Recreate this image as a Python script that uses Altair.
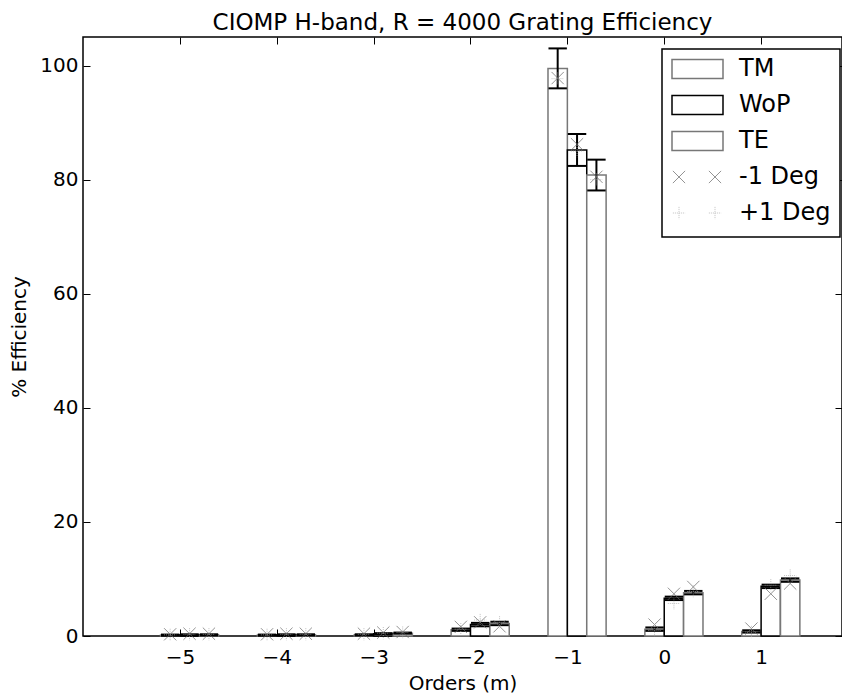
import altair as alt
import pandas as pd

# ---------------- data ----------------
orders = [-5, -4, -3, -2, -1, 0, 1]
series = ["TM", "WoP", "TE"]
tm = [0.15, 0.15, 0.2, 1.1, 99.5, 1.2, 0.8]
wop = [0.2, 0.2, 0.4, 2.0, 85.2, 6.6, 8.7]
te = [0.2, 0.2, 0.5, 2.2, 80.8, 7.6, 9.8]
tm_err = [0.1, 0.1, 0.1, 0.2, 3.5, 0.3, 0.2]
wop_err = [0.1, 0.1, 0.1, 0.3, 2.8, 0.3, 0.3]
te_err = [0.1, 0.1, 0.1, 0.3, 2.7, 0.3, 0.3]
minus1_tm = [0.3, 0.3, 0.4, 1.6, 97.8, 2.0, 1.3]
minus1_wop = [0.4, 0.4, 0.6, 2.4, 86.2, 7.4, 7.4]
minus1_te = [0.4, 0.4, 0.7, 1.7, 80.5, 8.6, 9.2]
plus1_tm = [0.2, 0.2, 0.3, 1.2, 97.7, 1.0, 0.7]
plus1_wop = [0.3, 0.3, 0.5, 2.8, 85.0, 5.7, 8.9]
plus1_te = [0.3, 0.3, 0.6, 2.4, 80.0, 7.8, 10.6]
x_ticks = [-5, -4, -3, -2, -1, 0, 1]
y_ticks = [0, 20, 40, 60, 80, 100]
legend_labels = ["TM", "WoP", "TE", "-1 Deg", "+1 Deg"]

vals = {"TM": tm, "WoP": wop, "TE": te}
errs = {"TM": tm_err, "WoP": wop_err, "TE": te_err}
m1 = {"TM": minus1_tm, "WoP": minus1_wop, "TE": minus1_te}
p1 = {"TM": plus1_tm, "WoP": plus1_wop, "TE": plus1_te}

BW = 0.2
rows = []
for k, s in enumerate(series):
    for j, o in enumerate(orders):
        x0 = o - BW + BW * k
        rows.append(dict(series=s, order=o, x0=x0, x1=x0 + BW, xc=x0 + BW / 2,
                         cl=x0 + BW / 2 - 0.095, cr=x0 + BW / 2 + 0.095,
                         v=vals[s][j], lo=vals[s][j] - errs[s][j], hi=vals[s][j] + errs[s][j],
                         m1=m1[s][j], p1=p1[s][j], base=0.0))
df = pd.DataFrame(rows)

xs = alt.Scale(domain=[-6, 1.835], nice=False, zero=False)
ys = alt.Scale(domain=[0, 105], nice=False)
FONT = "DejaVu Sans"

x_axis = alt.Axis(values=x_ticks, orient="bottom", format="d", title="Orders (m)", grid=False, domain=False,
                  offset=-7, tickSize=7, labelPadding=11, titlePadding=6, tickColor="black",
                  labelFontSize=20, titleFontSize=20, labelFont=FONT, titleFont=FONT,
                  labelColor="black", titleColor="black", titleFontWeight="normal")
y_axis = alt.Axis(values=y_ticks, orient="left", format="d", title="% Efficiency", grid=False, domain=False,
                  offset=-7, tickSize=7, labelPadding=5, titlePadding=10, tickColor="black",
                  labelFontSize=20, titleFontSize=20, labelFont=FONT, titleFont=FONT,
                  labelColor="black", titleColor="black", titleFontWeight="normal")

stroke_scale = alt.Scale(domain=series, range=["#777777", "#000000", "#777777"])
dash_scale = alt.Scale(domain=series, range=[[2, 1], [1, 0], [2, 1]])

bars = alt.Chart(df).mark_rect(fill="white", strokeWidth=1.5).encode(
    x=alt.X("x0:Q", scale=xs, axis=x_axis),
    x2="x1:Q",
    y=alt.Y("v:Q", scale=ys, axis=y_axis),
    y2="base:Q",
    stroke=alt.Stroke("series:N", scale=stroke_scale, legend=None),
    strokeDash=alt.StrokeDash("series:N", scale=dash_scale, legend=None),
)

# ticks on top and right (inward)
top_axis = alt.Axis(values=x_ticks, orient="top", labels=False, title=None, grid=False, domain=False,
                    offset=-7, tickSize=7, tickColor="black")
right_axis = alt.Axis(values=y_ticks, orient="right", labels=False, title=None, grid=False, domain=False,
                      offset=-7, tickSize=7, tickColor="black")
ghost = alt.Chart(df).mark_point(opacity=0).encode(
    x=alt.X("xc:Q", scale=xs, axis=top_axis),
    y=alt.Y("v:Q", scale=ys, axis=right_axis),
)

err_v = alt.Chart(df).mark_rule(color="black", strokeWidth=2).encode(
    x=alt.X("xc:Q", scale=xs, axis=None), y=alt.Y("lo:Q", scale=ys, axis=None), y2="hi:Q")
cap_hi = alt.Chart(df).mark_rule(color="black", strokeWidth=2).encode(
    x=alt.X("cl:Q", scale=xs, axis=None), x2="cr:Q", y=alt.Y("hi:Q", scale=ys, axis=None))
cap_lo = alt.Chart(df).mark_rule(color="black", strokeWidth=2).encode(
    x=alt.X("cl:Q", scale=xs, axis=None), x2="cr:Q", y=alt.Y("lo:Q", scale=ys, axis=None))

XSHAPE = "M-1,-1L1,1M-1,1L1,-1"
PSHAPE = "M-1,0L1,0M0,-1L0,1"
mk_m1 = alt.Chart(df).mark_point(shape=XSHAPE, filled=False, size=150, stroke="#666666", strokeWidth=1).encode(
    x=alt.X("xc:Q", scale=xs, axis=None), y=alt.Y("m1:Q", scale=ys, axis=None))
mk_p1 = alt.Chart(df).mark_point(shape=PSHAPE, filled=False, size=150, stroke="#aaaaaa", strokeWidth=1,
                                 strokeDash=[1, 1]).encode(
    x=alt.X("xc:Q", scale=xs, axis=None), y=alt.Y("p1:Q", scale=ys, axis=None))

# ---------------- legend (drawn in pixel space) ----------------
leg = pd.DataFrame({"label": legend_labels, "i": list(range(len(legend_labels)))})
box = alt.Chart(pd.DataFrame({"a": [0]})).mark_rect(fill="white", stroke="black", strokeWidth=1.5).encode(
    x=alt.value(579), x2=alt.value(757), y=alt.value(12), y2=alt.value(200))
leg_text = alt.Chart(leg).mark_text(align="left", baseline="middle", fontSize=24, font=FONT, color="black").encode(
    x=alt.value(656), y=alt.Y("py:Q", scale=None, axis=None), text="label:N"
).transform_calculate(py="32 + 36 * datum.i")
leg_sw = alt.Chart(leg).mark_rect(fill="white", strokeWidth=1.5).encode(
    x=alt.value(589), x2=alt.value(640),
    y=alt.Y("y0:Q", scale=None, axis=None), y2="y1:Q",
    stroke=alt.Stroke("label:N", scale=stroke_scale, legend=None),
    strokeDash=alt.StrokeDash("label:N", scale=dash_scale, legend=None),
).transform_filter(alt.FieldOneOfPredicate(field="label", oneOf=series)).transform_calculate(
    y0="32 + 36 * datum.i - 9.5", y1="32 + 36 * datum.i + 9.5")
leg_pts = pd.DataFrame({"label": ["-1 Deg", "-1 Deg", "+1 Deg", "+1 Deg"], "i": [3, 3, 4, 4], "j": [0, 1, 0, 1]})
leg_m1 = alt.Chart(leg_pts).mark_point(shape=XSHAPE, filled=False, size=150, stroke="#666666", strokeWidth=1).encode(
    x=alt.X("px:Q", scale=None, axis=None), y=alt.Y("py:Q", scale=None, axis=None)
).transform_filter("datum.i == 3").transform_calculate(px="596 + 36 * datum.j", py="32 + 36 * datum.i")
leg_p1 = alt.Chart(leg_pts).mark_point(shape=PSHAPE, filled=False, size=150, stroke="#aaaaaa", strokeWidth=1,
                                       strokeDash=[1, 1]).encode(
    x=alt.X("px:Q", scale=None, axis=None), y=alt.Y("py:Q", scale=None, axis=None)
).transform_filter("datum.i == 4").transform_calculate(px="596 + 36 * datum.j", py="32 + 36 * datum.i")

chart = alt.layer(
    bars, ghost, err_v, cap_hi, cap_lo, mk_m1, mk_p1, box, leg_sw, leg_m1, leg_p1, leg_text
).resolve_axis(x="independent", y="independent").properties(
    width=759, height=599,
    title=alt.TitleParams("CIOMP H-band, R = 4000 Grating Efficiency", fontSize=23, font=FONT,
                          fontWeight="normal", anchor="middle", offset=2, color="black"),
    autosize=alt.AutoSizeParams(type="none"),
    padding={"left": 75, "top": 29, "right": 0, "bottom": 64},
).configure(background="white").configure_view(stroke="black", strokeWidth=1.5)

chart.save("out.html", embed_options={"renderer": "svg", "actions": False})
